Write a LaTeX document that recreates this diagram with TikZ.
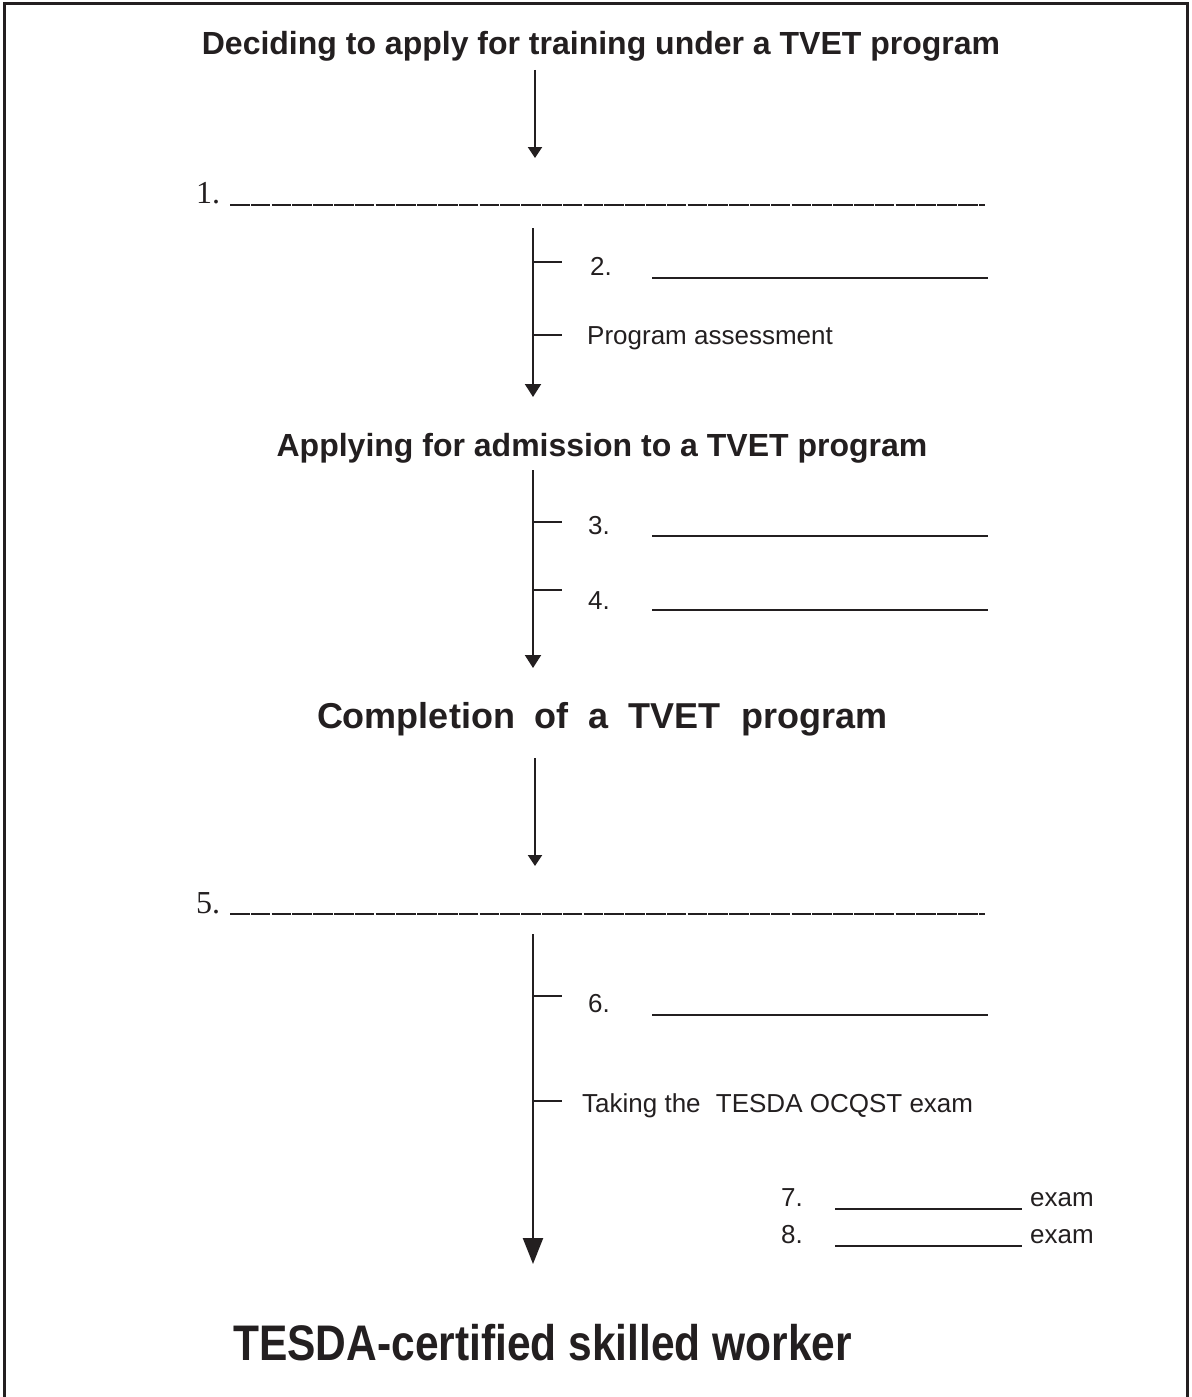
\documentclass[tikz,border=0pt]{standalone}
\usepackage{fontspec}
\setmainfont{Liberation Sans}
\newfontfamily\serifnum{Liberation Serif}
\newfontfamily\condbold[FakeStretch=0.85]{Liberation Sans Bold}
\usetikzlibrary{arrows.meta}
\definecolor{ink}{HTML}{231F20}
\begin{document}
\begin{tikzpicture}[x=1pt,y=-1pt,
  title/.style={font=\bfseries\fontsize{32}{36}\selectfont, anchor=base, inner sep=0pt, text=ink},
  lbl/.style={font=\fontsize{26}{30}\selectfont, anchor=base west, inner sep=0pt, text=ink},
  num/.style={font=\serifnum\fontsize{32}{36}\selectfont, anchor=base west, inner sep=0pt, text=ink},
  flow/.style={line width=2pt, ink, -{Triangle[width=14pt,length=11pt]}},
  flowbig/.style={line width=2pt, ink, -{Triangle[width=16pt,length=13pt]}},
  flowhuge/.style={line width=2.2pt, ink, -{Triangle[width=20pt,length=26pt]}},
  tickline/.style={line width=2pt, ink},
  blank/.style={line width=1.3pt, ink},
  longblank/.style={line width=1.8pt, ink, dash pattern=on 19.5pt off 1.3pt},
]
\useasboundingbox (0,0) rectangle (1191,1397);
\draw[line width=3pt, ink] (4,1397) -- (4,4) -- (1187,4) -- (1187,1397);

% step 1
\node[title] (t1) at (601,55) {Deciding to apply for training under a TVET program};
\coordinate (a1s) at (535,70);
\coordinate (a1e) at (535,158);
\draw[flow] (a1s) -- (a1e);
\node[num] (n1) at (196,203) {1.};
\coordinate (u1s) at (230,205);
\coordinate (u1e) at (985,205);
\draw[longblank] (u1s) -- (u1e);

% branch 2
\coordinate (a2s) at (533,228);
\coordinate (a2e) at (533,397);
\draw[flowbig] (a2s) -- (a2e);
\coordinate (k2) at (533,262);
\coordinate (k2e) at (562,262);
\draw[tickline] (k2) -- (k2e);
\coordinate (kp) at (533,335);
\coordinate (kpe) at (562,335);
\draw[tickline] (kp) -- (kpe);
\node[lbl] (n2) at (590,275) {2.};
\coordinate (b2s) at (652,278);
\coordinate (b2e) at (988,278);
\draw[blank] (b2s) -- (b2e);
\node[lbl] (pa) at (587,344) {Program assessment};

% step 2
\node[title] (t2) at (602,456) {Applying for admission to a TVET program};
\coordinate (a3s) at (533,470);
\coordinate (a3e) at (533,668);
\draw[flowbig] (a3s) -- (a3e);
\coordinate (k3) at (533,522);
\coordinate (k3e) at (562,522);
\draw[tickline] (k3) -- (k3e);
\coordinate (k4) at (533,590);
\coordinate (k4e) at (562,590);
\draw[tickline] (k4) -- (k4e);
\node[lbl] (n3) at (588,534) {3.};
\coordinate (b3s) at (652,536);
\coordinate (b3e) at (988,536);
\draw[blank] (b3s) -- (b3e);
\node[lbl] (n4) at (588,609) {4.};
\coordinate (b4s) at (652,610);
\coordinate (b4e) at (988,610);
\draw[blank] (b4s) -- (b4e);

% step 3
\node[title, font=\bfseries\fontsize{36}{40}\selectfont] (t3) at (602,728) {Completion\hspace{20pt}of\hspace{20pt}a\hspace{20pt}TVET\hspace{20pt}program};
\coordinate (a4s) at (535,758);
\coordinate (a4e) at (535,866);
\draw[flow] (a4s) -- (a4e);
\node[num] (n5) at (196,913) {5.};
\coordinate (u5s) at (230,914);
\coordinate (u5e) at (985,914);
\draw[longblank] (u5s) -- (u5e);

% branch 6
\coordinate (a5s) at (533,934);
\coordinate (a5e) at (533,1264);
\draw[flowhuge] (a5s) -- (a5e);
\coordinate (k6) at (533,996);
\coordinate (k6e) at (562,996);
\draw[tickline] (k6) -- (k6e);
\coordinate (kt) at (533,1101);
\coordinate (kte) at (562,1101);
\draw[tickline] (kt) -- (kte);
\node[lbl] (n6) at (588,1012) {6.};
\coordinate (b6s) at (652,1015);
\coordinate (b6e) at (988,1015);
\draw[blank] (b6s) -- (b6e);
\node[lbl] (tk) at (582,1112) {Taking the\hspace{8pt} TESDA OCQST exam};

\node[lbl] (n7) at (781,1206) {7.};
\coordinate (b7s) at (835,1209);
\coordinate (b7e) at (1022,1209);
\draw[blank] (b7s) -- (b7e);
\node[lbl] (e7) at (1030,1206) {exam};
\node[lbl] (n8) at (781,1243) {8.};
\coordinate (b8s) at (835,1246);
\coordinate (b8e) at (1022,1246);
\draw[blank] (b8s) -- (b8e);
\node[lbl] (e8) at (1030,1243) {exam};

% final
\node[font=\condbold\fontsize{50}{54}\selectfont, anchor=base west, inner sep=0pt, text=ink] (t4) at (233,1360) {TESDA-certified skilled worker};
\end{tikzpicture}
\end{document}
